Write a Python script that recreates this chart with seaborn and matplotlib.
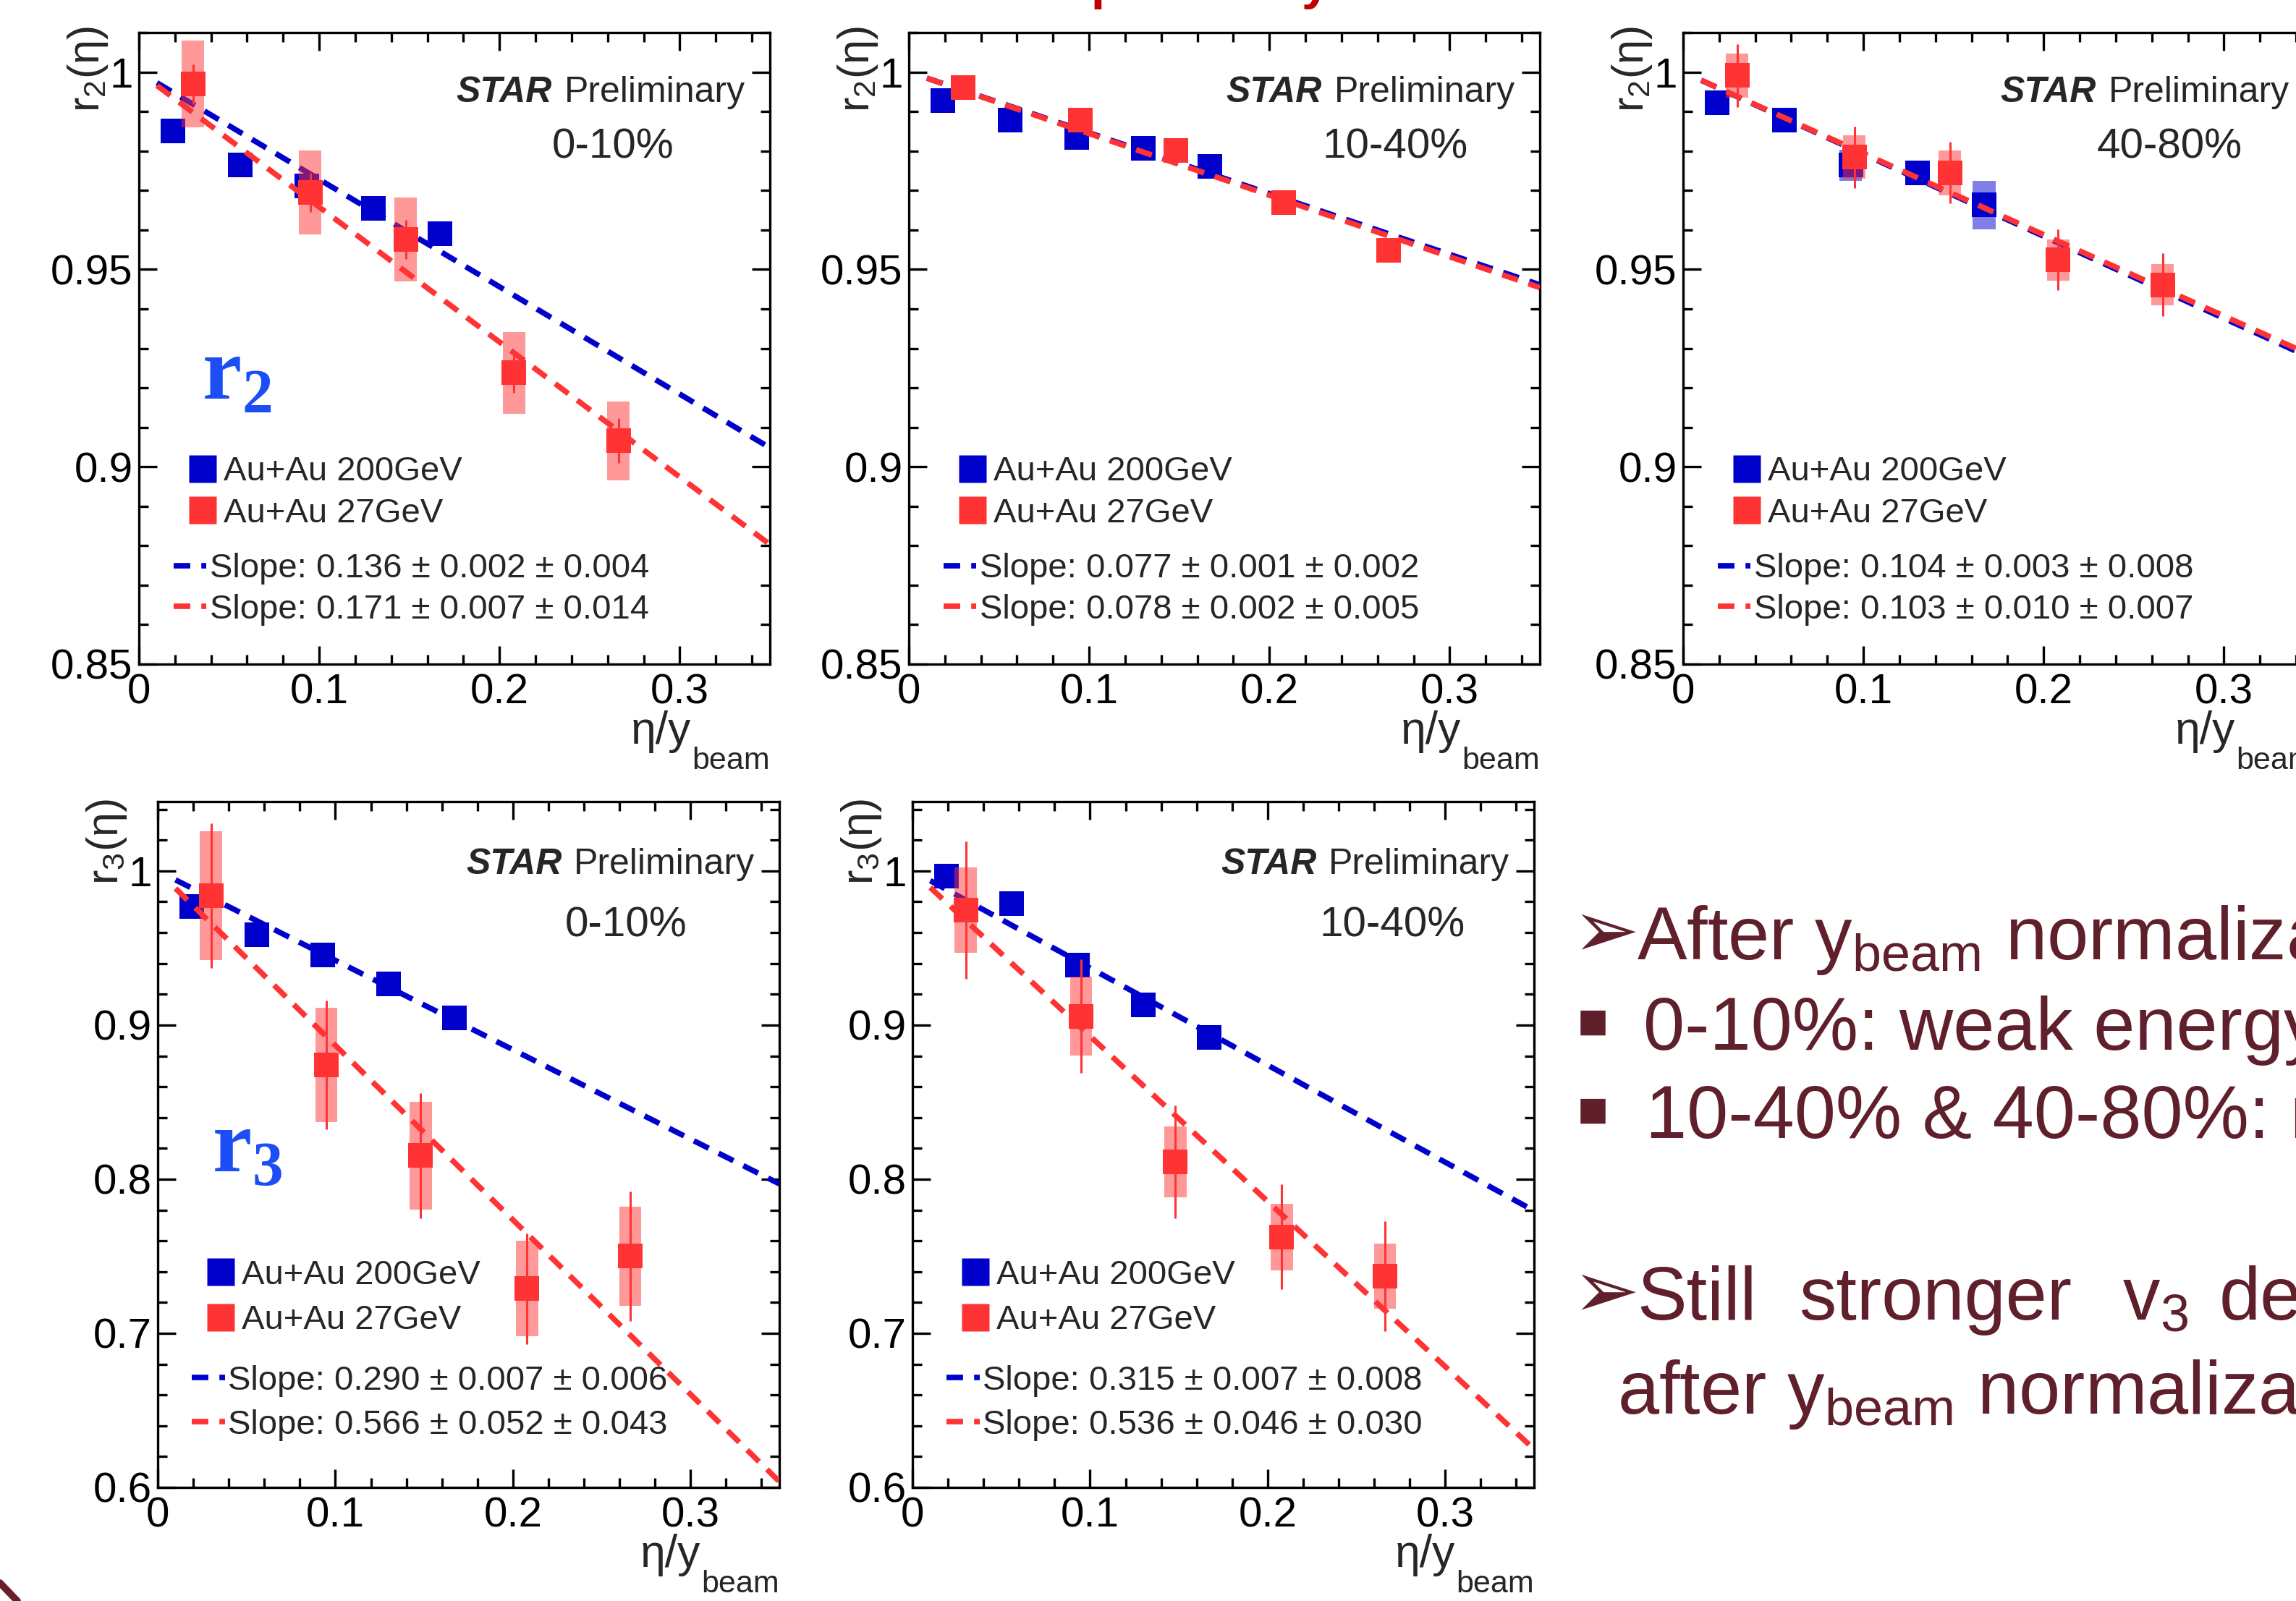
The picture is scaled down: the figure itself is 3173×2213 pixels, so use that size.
import numpy as np
import matplotlib.pyplot as plt
import seaborn as sns
from matplotlib.lines import Line2D
from matplotlib.ticker import MultipleLocator, FuncFormatter

# eta / y_beam positions
x_200 = [0.019, 0.056, 0.093, 0.130, 0.167]
x_27 = [0.030, 0.095, 0.148, 0.208, 0.266]

# r2(eta), 0-10%
r2_c0_200 = [0.9850, 0.9764, 0.9712, 0.9654, 0.9591]
r2_c0_200_sys = [0.0015, 0.0015, 0.0020, 0.0015, 0.0015]
r2_c0_27 = [0.9969, 0.9695, 0.9576, 0.9238, 0.9066]
r2_c0_27_stat = [0.0050, 0.0050, 0.0050, 0.0050, 0.0057]
r2_c0_27_sys = [0.0110, 0.0107, 0.0106, 0.0103, 0.0100]

# r2(eta), 10-40%
r2_c1_200 = [0.9928, 0.9878, 0.9834, 0.9806, 0.9761]
r2_c1_200_sys = [0.0010, 0.0010, 0.0010, 0.0010, 0.0010]
r2_c1_27 = [0.9960, 0.9878, 0.9802, 0.9670, 0.9548]
r2_c1_27_stat = [0.0015, 0.0015, 0.0015, 0.0015, 0.0020]
r2_c1_27_sys = [0.0020, 0.0020, 0.0020, 0.0020, 0.0020]

# r2(eta), 40-80%
r2_c2_200 = [0.9922, 0.9878, 0.9764, 0.9744, 0.9663]
r2_c2_200_sys = [0.0015, 0.0015, 0.0040, 0.0025, 0.0062]
r2_c2_27 = [0.9991, 0.9784, 0.9745, 0.9524, 0.9461]
r2_c2_27_stat = [0.0080, 0.0078, 0.0078, 0.0077, 0.0080]
r2_c2_27_sys = [0.0056, 0.0055, 0.0057, 0.0052, 0.0052]

# r3(eta), 0-10%
r3_c0_200 = [0.9770, 0.9585, 0.9456, 0.9269, 0.9048]
r3_c0_200_sys = [0.0030, 0.0030, 0.0030, 0.0030, 0.0030]
r3_c0_27 = [0.9840, 0.8741, 0.8153, 0.7289, 0.7500]
r3_c0_27_stat = [0.0468, 0.0417, 0.0406, 0.0360, 0.0420]
r3_c0_27_sys = [0.0417, 0.0370, 0.0350, 0.0310, 0.0320]

# r3(eta), 10-40%
r3_c1_200 = [0.9966, 0.9789, 0.9388, 0.9133, 0.8922]
r3_c1_200_sys = [0.0030, 0.0030, 0.0030, 0.0030, 0.0030]
r3_c1_27 = [0.9745, 0.9058, 0.8112, 0.7626, 0.7370]
r3_c1_27_stat = [0.0446, 0.0370, 0.0366, 0.0340, 0.0357]
r3_c1_27_sys = [0.0277, 0.0255, 0.0230, 0.0216, 0.0210]

# fitted slopes: r_n = 1 - 2 * slope * eta/y_beam
slope_200 = [0.136, 0.077, 0.104, 0.290, 0.315]
slope_200_err = ["0.002 ± 0.004", "0.001 ± 0.002", "0.003 ± 0.008", "0.007 ± 0.006", "0.007 ± 0.008"]
slope_27 = [0.171, 0.078, 0.103, 0.566, 0.536]
slope_27_err = ["0.007 ± 0.014", "0.002 ± 0.005", "0.010 ± 0.007", "0.052 ± 0.043", "0.046 ± 0.030"]

centralities = ["0-10%", "10-40%", "40-80%", "0-10%", "10-40%"]
energy_labels = ["Au+Au 200GeV", "Au+Au 27GeV"]

BLUE = "#0000CC"
RED = "#FF3333"
MAROON = "#5F1F2B"

sns.set_theme(style="ticks")
plt.rcParams["font.family"] = ["Liberation Sans", "DejaVu Sans"]
plt.rcParams["mathtext.fontset"] = "custom"
plt.rcParams["mathtext.rm"] = "Liberation Sans"
plt.rcParams["mathtext.it"] = "Liberation Sans:italic"
plt.rcParams["mathtext.bf"] = "Liberation Serif:bold"

W, H = 3173, 2213
fig = plt.figure(figsize=(W / 100, H / 100), dpi=100)
fig.patch.set_facecolor("white")
PT = 72 / 100  # points per pixel


def px_rect(left, top, width, height):
    return [left / W, 1 - (top + height) / H, width / W, height / H]


rects = [px_rect(192, 45, 872, 873), px_rect(1256, 45, 872, 873), px_rect(2326, 45, 872, 873),
         px_rect(218, 1108, 859, 948), px_rect(1261, 1108, 859, 948)]

panels = [
    (r2_c0_200, r2_c0_200_sys, r2_c0_27, r2_c0_27_stat, r2_c0_27_sys),
    (r2_c1_200, r2_c1_200_sys, r2_c1_27, r2_c1_27_stat, r2_c1_27_sys),
    (r2_c2_200, r2_c2_200_sys, r2_c2_27, r2_c2_27_stat, r2_c2_27_sys),
    (r3_c0_200, r3_c0_200_sys, r3_c0_27, r3_c0_27_stat, r3_c0_27_sys),
    (r3_c1_200, r3_c1_200_sys, r3_c1_27, r3_c1_27_stat, r3_c1_27_sys),
]

fit_x = np.array([0.01, 0.35])
dash = (0, (3.0, 2.0))
fmt = FuncFormatter(lambda v, p: "%g" % round(v, 4))

for i, (ax_rect, data) in enumerate(zip(rects, panels)):
    y200, s200, y27, st27, s27 = [np.asarray(d) for d in data]
    top_row = i < 3
    ax = fig.add_axes(ax_rect)

    # points, boxes, fits
    ax.bar(x_200, 2 * s200, bottom=y200 - s200, width=0.0125, color=BLUE, alpha=0.5,
           linewidth=0, zorder=1.5)
    sns.scatterplot(x=x_200, y=y200, marker="s", s=600, color=BLUE, linewidth=0, ax=ax, zorder=2)
    sns.lineplot(x=fit_x, y=1 - 2 * slope_200[i] * fit_x, color=BLUE, lw=5.5, linestyle=dash, ax=ax, zorder=3)
    sns.lineplot(x=fit_x, y=1 - 2 * slope_27[i] * fit_x, color=RED, lw=5.5, linestyle=dash, ax=ax, zorder=3)
    ax.bar(x_27, 2 * s27, bottom=y27 - s27, width=0.0125, color=RED, alpha=0.5, linewidth=0, zorder=4)
    ax.vlines(x_27, y27 - st27, y27 + st27, colors=RED, lw=2.2, zorder=5)
    sns.scatterplot(x=x_27, y=y27, marker="s", s=600, color=RED, linewidth=0, ax=ax, zorder=6)

    # axes in ROOT style
    ax.set_xlim(0, 0.35)
    ax.xaxis.set_major_locator(MultipleLocator(0.1))
    ax.xaxis.set_minor_locator(MultipleLocator(0.02))
    if top_row:
        ax.set_ylim(0.85, 1.01)
        ax.yaxis.set_major_locator(MultipleLocator(0.05))
        ax.yaxis.set_minor_locator(MultipleLocator(0.01))
    else:
        ax.set_ylim(0.6, 1.045)
        ax.yaxis.set_major_locator(MultipleLocator(0.1))
        ax.yaxis.set_minor_locator(MultipleLocator(0.02))
    ax.xaxis.set_major_formatter(fmt)
    ax.yaxis.set_major_formatter(fmt)
    ax.tick_params(which="both", direction="in", top=True, right=True, width=2.4,
                   labelsize=42, colors="black")
    ax.tick_params(which="major", length=18)
    ax.tick_params(which="minor", length=9.5)
    ax.tick_params(axis="y", pad=6)
    ax.tick_params(axis="x", pad=9)
    for sp in ax.spines.values():
        sp.set_linewidth(2.4)
        sp.set_color("black")
    ax.set_facecolor("none")

    n = 2 if top_row else 3
    ax.set_ylabel("r$_{%d}$(η)" % n, fontsize=44, loc="top")
    ax.yaxis.set_label_coords(-0.046 if top_row else -0.047, 1.01 if top_row else 1.004)

    # x title: eta/y with a low "beam" subscript, flush with the axis end
    bt = ax.annotate("beam", xy=(1, 0), xycoords="axes fraction", xytext=(0, -145 * PT),
                     textcoords="offset points", ha="right", va="baseline", fontsize=31)
    ax.annotate("η/y", xy=(0, 0), xycoords=bt, xytext=(-1, 22), textcoords="offset points",
                ha="right", va="bottom", fontsize=45)

    # STAR Preliminary + centrality
    t = ax.text(0.961, 0.905 if top_row else 0.908, "Preliminary", transform=ax.transAxes,
                ha="right", va="center", fontsize=36)
    ax.annotate("STAR", xy=(0, 0.5), xycoords=t, xytext=(-12, 0), textcoords="offset points",
                ha="right", va="center", fontsize=36, fontweight="bold", fontstyle="italic")
    ax.text(0.655, 0.819, centralities[i], transform=ax.transAxes, ha="left", va="center", fontsize=42)

    # legends
    mk = [Line2D([], [], ls="none", marker="s", ms=27, color=c, mec="none") for c in (BLUE, RED)]
    leg1 = ax.legend(mk, energy_labels, loc="center left",
                     bbox_to_anchor=(0.074, 0.2715 if top_row else 0.2765),
                     frameon=False, fontsize=34, handlelength=1.0, handletextpad=0.12,
                     labelspacing=0.28 if top_row else 0.39, borderpad=0, borderaxespad=0)
    ax.add_artist(leg1)
    ln = [Line2D([], [], color=c, lw=5.5, ls=dash) for c in (BLUE, RED)]
    lab = ["Slope: %.3f ± %s" % (slope_200[i], slope_200_err[i]),
           "Slope: %.3f ± %s" % (slope_27[i], slope_27_err[i])]
    ax.legend(ln, lab, loc="center left", bbox_to_anchor=(0.055, 0.1185 if top_row else 0.123),
              frameon=False, fontsize=34, handlelength=0.96, handletextpad=0.09,
              labelspacing=0.26 if top_row else 0.36, borderpad=0, borderaxespad=0)

    if i == 0:
        ax.text(0.10, 0.42, r"$\mathbf{r}_\mathbf{2}$", transform=ax.transAxes, fontsize=88,
                color="#1C4DF5", ha="left", va="baseline")
    if i == 3:
        ax.text(0.087, 0.46, r"$\mathbf{r}_\mathbf{3}$", transform=ax.transAxes, fontsize=88,
                color="#1C4DF5", ha="left", va="baseline")


# slide text on the right
def fx(px):
    return px / W


def fy(py):
    return 1 - py / H


fs = 74
arrow_kw = dict(fontsize=80, color=MAROON, family=["DejaVu Sans"], va="baseline")
bullet_kw = dict(fontsize=50, color=MAROON, family=["DejaVu Sans"], va="baseline")
text_kw = dict(fontsize=fs, color=MAROON, va="baseline")

fig.text(fx(2173), fy(1322), "➢", **arrow_kw)
fig.text(fx(2262), fy(1326), r"After y$_{\mathrm{beam}}$ normalization:", **text_kw)
fig.text(fx(2178), fy(1432), "▪", **bullet_kw)
fig.text(fx(2271), fy(1451), "0-10%: weak energy dependence", **text_kw)
fig.text(fx(2178), fy(1554), "▪", **bullet_kw)
fig.text(fx(2274), fy(1573), "10-40% & 40-80%: roughly independent", **text_kw)
fig.text(fx(2173), fy(1820), "➢", **arrow_kw)
fig.text(fx(2262), fy(1824), "Still", **text_kw)
fig.text(fx(2486), fy(1824), "stronger", **text_kw)
fig.text(fx(2933), fy(1824), r"v$_{3}$", **text_kw)
fig.text(fx(3067), fy(1824), "decorrelation", **text_kw)
fig.text(fx(2235), fy(1954), r"after y$_{\mathrm{beam}}$ normalization", **text_kw)

# cut-off slide title and corner decoration
fig.text(fx(1425), 1.0 + 2 / H, "dependency", fontsize=51, fontweight="bold", color="#C00000",
         ha="left", va="baseline")
fig.add_artist(Line2D([0, 24 / W], [1 - 2188 / H, 0], transform=fig.transFigure,
                      color="#6B1E2A", lw=7))

fig.savefig("out.png", dpi=100, facecolor="white")
